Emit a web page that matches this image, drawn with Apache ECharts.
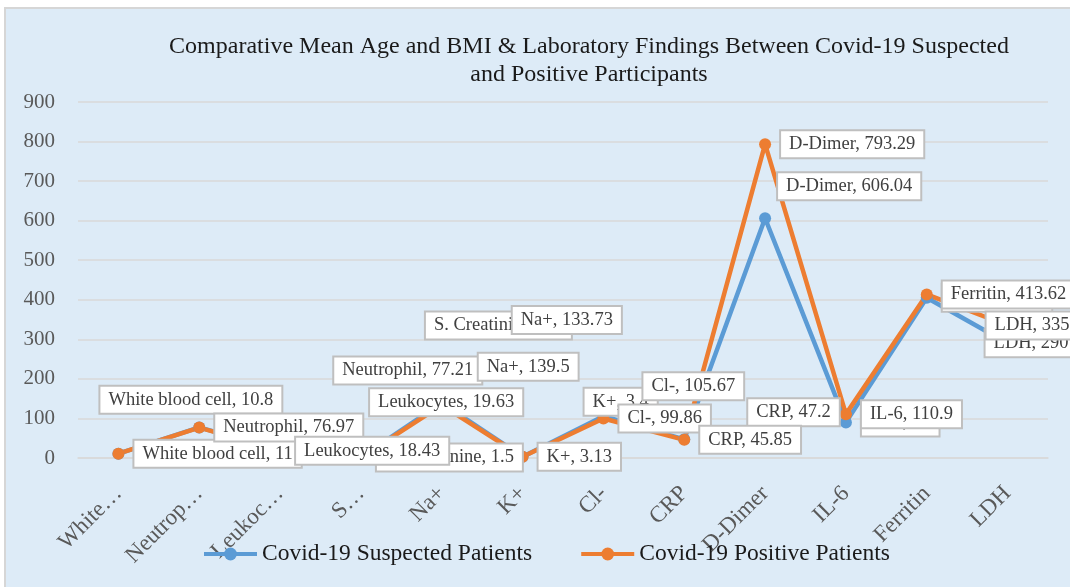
<!DOCTYPE html>
<html>
<head>
<meta charset="utf-8">
<script src="https://cdn.jsdelivr.net/npm/echarts@6/dist/echarts.min.js"></script>
<style>
  html, body { margin: 0; padding: 0; background: #ffffff; }
  #bg { position: absolute; left: 4px; top: 7px; width: 1080px; height: 600px;
        background: #DDEBF7; border-top: 2px solid #d6d6d6; border-left: 2px solid #d6d6d6; }
  #chart { position: absolute; left: 0; top: 0; width: 1070px; height: 587px; }
</style>
</head>
<body>
<div id="bg"></div>
<div id="chart"></div>
<script>
const categories = ['White blood cell', 'Neutrophil', 'Leukocytes', 'S. Creatinine', 'Na+', 'K+', 'Cl-', 'CRP', 'D-Dimer', 'IL-6', 'Ferritin', 'LDH'];
const tickLabels = ['White…', 'Neutrop…', 'Leukoc…', 'S…', 'Na+', 'K+', 'Cl-', 'CRP', 'D-Dimer', 'IL-6', 'Ferritin', 'LDH'];
const suspected = [11, 77.21, 19.63, 1.5, 139.5, 3.4, 105.67, 47.2, 606.04, 90, 405, 290];
const positive = [10.8, 76.97, 18.43, 1.3, 133.73, 3.13, 99.86, 45.85, 793.29, 110.9, 413.62, 335];
const yTicks = [0, 100, 200, 300, 400, 500, 600, 700, 800, 900];

// label nudges (pixels) relative to the default right-hand placement
const suspectedLabelShift = [[0,0],[119,-57],[74,-48],[0,0],[21,-36],[46,-55],[24,-30],[48,-27],[-3,-32],[0,0],[0,0],[-38,0]];
const positiveLabelShift  = [[-34,-54],[0,0],[0,0],[49,-132],[55,-85],[0,0],[0,0],[0,0],[0,0],[0,0],[0,0],[-37,0]];

const FONT = "'Liberation Serif', 'Times New Roman', serif";

function buildData(values, shifts) {
  return values.map((v, i) => ({
    value: v,
    label: { offset: shifts[i] }
  }));
}

const labelStyle = {
  show: true,
  position: 'right',
  distance: 10,
  formatter: p => p.name + ', ' + p.value,
  fontFamily: FONT,
  fontSize: 18.5,
  color: '#404040',
  backgroundColor: '#ffffff',
  borderColor: '#bfbfbf',
  borderWidth: 2,
  padding: [4, 8, 3, 8]
};

const chart = echarts.init(document.getElementById('chart'), null, { renderer: 'canvas' });
chart.setOption({
  backgroundColor: 'transparent',
  animation: false,
  title: {
    text: 'Comparative Mean Age and BMI & Laboratory Findings Between Covid-19 Suspected\nand Positive Participants',
    left: 584,
    top: 28,
    textAlign: 'center',
    textStyle: { fontFamily: FONT, fontSize: 24, fontWeight: 'normal', color: '#1a1a1a', lineHeight: 28 }
  },
  legend: {
    left: 197,
    top: 537,
    itemWidth: 53,
    itemHeight: 16,
    itemGap: 47,
    lineStyle: { width: 4 },
    textStyle: { fontFamily: FONT, fontSize: 23.5, color: '#1a1a1a' },
    data: ['Covid-19 Suspected Patients', 'Covid-19 Positive Patients']
  },
  grid: { left: 78, right: 22, top: 102, bottom: 129, containLabel: false },
  xAxis: {
    type: 'category',
    data: categories,
    boundaryGap: true,
    axisLine: { show: true, lineStyle: { color: '#d9d9d9', width: 1.5 } },
    axisTick: { show: false },
    axisLabel: {
      interval: 0,
      rotate: 45,
      margin: 32,
      fontFamily: FONT,
      fontSize: 23,
      color: '#595959',
      formatter: (v, i) => tickLabels[i]
    }
  },
  yAxis: {
    type: 'value',
    min: yTicks[0],
    max: yTicks[yTicks.length - 1],
    interval: 100,
    axisLine: { show: false },
    axisTick: { show: false },
    axisLabel: { margin: 23, fontFamily: FONT, fontSize: 21, color: '#595959' },
    splitLine: { lineStyle: { color: '#d9d9d9', width: 1.5 } }
  },
  series: [
    {
      name: 'Covid-19 Suspected Patients',
      type: 'line',
      data: buildData(suspected, suspectedLabelShift),
      symbol: 'circle',
      symbolSize: 12,
      lineStyle: { color: '#5B9BD5', width: 4.5 },
      itemStyle: { color: '#5B9BD5' },
      label: labelStyle,
      emphasis: { disabled: true }
    },
    {
      name: 'Covid-19 Positive Patients',
      type: 'line',
      data: buildData(positive, positiveLabelShift),
      symbol: 'circle',
      symbolSize: 12,
      lineStyle: { color: '#ED7D31', width: 4.5 },
      itemStyle: { color: '#ED7D31' },
      label: labelStyle,
      emphasis: { disabled: true }
    }
  ]
});
</script>
</body>
</html>
